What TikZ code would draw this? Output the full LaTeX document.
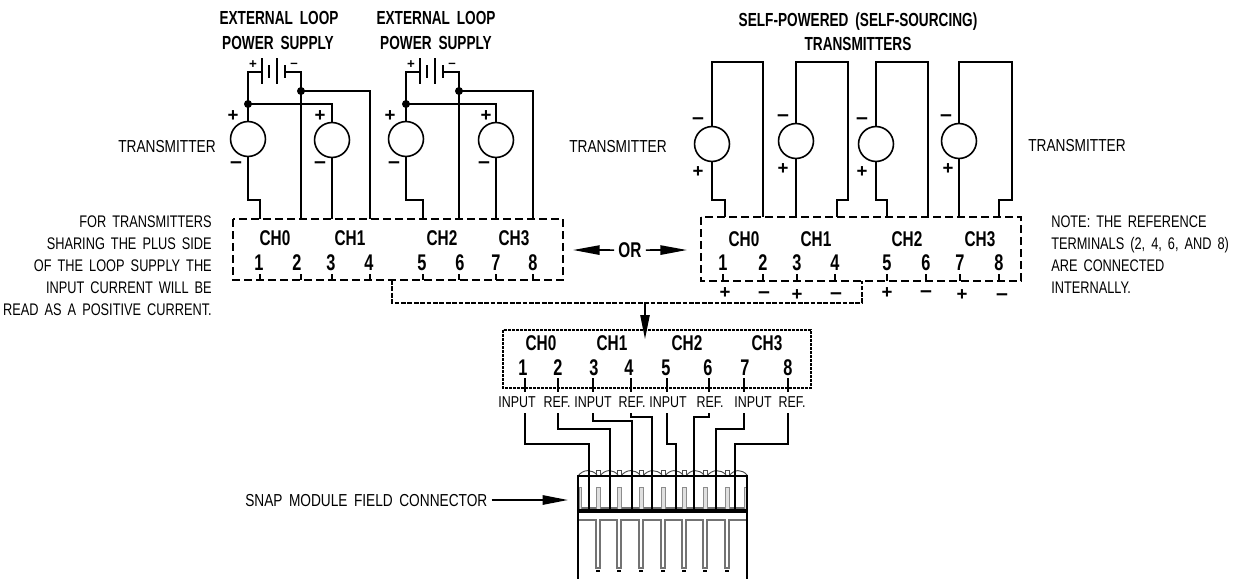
\documentclass[tikz,border=0pt]{standalone}
\usepackage{fontspec}
\usetikzlibrary{arrows.meta}
\newfontfamily\plainf[FakeStretch=0.79,WordSpace=1.7]{Liberation Sans}
\newfontfamily\notef[FakeStretch=0.76,WordSpace=1.7]{Liberation Sans}
\newfontfamily\boldf[FakeStretch=0.72,WordSpace=1.8]{Liberation Sans Bold}
\newfontfamily\signf{Liberation Sans Bold}
\tikzset{
  lbl/.style={anchor=base,inner sep=0pt,yshift=-4.6pt,font=\plainf\fontsize{13}{16}\selectfont},
  inlbl/.style={anchor=base,inner sep=0pt,yshift=-4.4pt,font=\plainf\fontsize{11.8}{14}\selectfont},
  ttl/.style={anchor=base,inner sep=0pt,yshift=-4.8pt,font=\boldf\fontsize{14.2}{16}\selectfont},
  chl/.style={anchor=base,inner sep=0pt,yshift=-5.6pt,font=\boldf\fontsize{16}{18}\selectfont},
  numl/.style={anchor=base,inner sep=0pt,yshift=-6.4pt,font=\boldf\fontsize{17}{20}\selectfont},
  plusl/.style={anchor=base,inner sep=0pt,yshift=-4.6pt,font=\signf\fontsize{14}{16}\selectfont},
  minusl/.style={anchor=base,inner sep=0pt,yshift=-4.6pt,font=\signf\fontsize{16}{16}\selectfont},
  batsign/.style={inner sep=0pt,anchor=base,yshift=-3.4pt,font=\signf\fontsize{10}{12}\selectfont},
  xmtr/.style={draw,circle,minimum size=26.2pt,inner sep=0pt,line width=1.2pt},
  wire/.style={line width=1.5pt,line join=miter},
  junction/.style={circle,fill=black,minimum size=6pt,inner sep=0pt},
  plate/.style={line width=1.4pt},
  termbox/.style={line width=1.3pt,dash pattern=on 6pt off 3pt},
  dotbox/.style={line width=1.2pt,dash pattern=on 2pt off 1pt},
  bus/.style={line width=.9pt,dash pattern=on 3.6pt off 1.2pt},
  tick/.style={line width=1.1pt},
  bigarrow/.style={line width=1.3pt,-{Triangle[length=20pt,width=7pt]}},
  pinline/.style={line width=.8pt,draw=black!55},
  pinfill/.style={line width=.7pt,draw=black!45,fill=black!12},
  sidenote/.style={inner sep=0pt,font=\notef\fontsize{12.6}{16.5}\selectfont}
}
\begin{document}
\begin{tikzpicture}[x=0.75pt,y=-0.75pt]
\useasboundingbox[fill=white] (0,0) rectangle (1237,579);

% ---------- titles and side text
\node[ttl] (t1a) at (279,18) {EXTERNAL LOOP};
\node[ttl] (t1b) at (278,43) {POWER SUPPLY};
\node[ttl] (t2a) at (436,18) {EXTERNAL LOOP};
\node[ttl] (t2b) at (436,43) {POWER SUPPLY};
\node[ttl] (t3a) at (858,20) {SELF-POWERED (SELF-SOURCING)};
\node[ttl] (t3b) at (858,44) {TRANSMITTERS};
\node[lbl] (xa) at (167,146) {TRANSMITTER};
\node[lbl] (xb) at (618,146) {TRANSMITTER};
\node[lbl] (xc) at (1077,145) {TRANSMITTER};
\node[sidenote,anchor=north east,align=right] (noteL) at (212,215)
  {FOR TRANSMITTERS\\SHARING THE PLUS SIDE\\OF THE LOOP SUPPLY THE\\INPUT CURRENT WILL BE\\READ AS A POSITIVE CURRENT.};
\node[sidenote,anchor=north west,align=left] (noteR) at (1051,215)
  {NOTE: THE REFERENCE\\TERMINALS (2, 4, 6, AND 8)\\ARE CONNECTED\\INTERNALLY.};

% ---------- left terminal block
\draw[termbox] (233,219) rectangle (563,280);
\node[chl] (aC0) at (275,238) {CH0};
\node[chl] (aC1) at (350,238) {CH1};
\node[chl] (aC2) at (442,238) {CH2};
\node[chl] (aC3) at (514,238) {CH3};
\foreach \n/\x in {1/260,2/301,3/332,4/370,5/423,6/459,7/496,8/533}{
  \coordinate (aT\n) at (\x,219);
  \coordinate (aB\n) at (\x,280);
  \coordinate (aK\n) at (\x,274);
  \draw[tick] (aK\n) -- (aB\n);
}
\foreach \n/\x in {1/259,2/297,3/331,4/369,5/422,6/460,7/496,8/533}
  \node[numl] (aN\n) at (\x,262) {\n};

% ---------- left transmitters
\node[xmtr] (c1) at (248,139) {};
\node[xmtr] (c2) at (332,140) {};
\node[xmtr] (c3) at (406,139) {};
\node[xmtr] (c4) at (496,140) {};
\node[plusl] (p1) at (233,115) {+};
\node[minusl] (m1) at (236,162) {–};
\node[plusl] (p2) at (320,115) {+};
\node[minusl] (m2) at (320,162) {–};
\node[plusl] (p3) at (390,115) {+};
\node[minusl] (m3) at (394,162) {–};
\node[plusl] (p4) at (486,115) {+};
\node[minusl] (m4) at (484,162) {–};

% ---------- batteries
\foreach \b/\o in {A/0,B/158}{
  \begin{scope}[shift={(\o,0)}]
    \coordinate (b\b L) at (262,72);
    \coordinate (b\b R) at (285,72);
    \draw[plate] (262,58) -- (262,84);
    \draw[plate] (269,65) -- (269,78);
    \draw[plate] (277,58) -- (277,84);
    \draw[plate] (285,65) -- (285,78);
    \node[batsign] (b\b p) at (253,64) {+};
    \node[batsign] (b\b m) at (294,63) {–};
    \node[junction] (j\b P) at (248,104) {};
    \node[junction] (j\b N) at (301,91) {};
  \end{scope}
}
% wiring, first supply
\draw[wire] (bAL) -| (jAP.center);
\draw[wire] (jAP.center) -- (c1.north);
\draw[wire] (jAP.center) -| (c2.north);
\draw[wire] (bAR) -| (jAN.center);
\draw[wire] (jAN.center) -- (aT2);
\draw[wire] (jAN.center) -| (aT4);
\draw[wire] (c1.south) -- (248,200) -| (aT1);
\draw[wire] (c2.south) -- (aT3);
% wiring, second supply
\draw[wire] (bBL) -| (jBP.center);
\draw[wire] (jBP.center) -- (c3.north);
\draw[wire] (jBP.center) -| (c4.north);
\draw[wire] (bBR) -| (jBN.center);
\draw[wire] (jBN.center) -- (aT6);
\draw[wire] (jBN.center) -| (aT8);
\draw[wire] (c3.south) -- (406,200) -| (aT5);
\draw[wire] (c4.south) -- (aT7);

% ---------- OR
\node[chl] (or) at (630,250) {OR};
\coordinate (orL) at (573,250);
\coordinate (orR) at (687,250);
\draw[bigarrow] (or.west) ++(-4,0) -- (orL);
\draw[bigarrow] (or.east) ++(4,0) -- (orR);

% ---------- right terminal block
\draw[termbox] (701,217) rectangle (1021,281);
\node[chl] (bC0) at (744,239) {CH0};
\node[chl] (bC1) at (816,239) {CH1};
\node[chl] (bC2) at (907,239) {CH2};
\node[chl] (bC3) at (980,239) {CH3};
\foreach \n/\x in {1/725,2/763,3/796,4/837,5/887,6/928,7/959,8/999}{
  \coordinate (bT\n) at (\x,217);
}
\foreach \n/\x in {1/723,2/763,3/797,4/835,5/887,6/926,7/960,8/999}{
  \node[numl] (bN\n) at (\x,262) {\n};
  \coordinate (bK\n) at (\x,274);
  \coordinate (bB\n) at (\x,281);
  \draw[tick] (bK\n) -- (bB\n);
}
\node[xmtr] (d1) at (712,144) {};
\node[xmtr] (d2) at (796,141) {};
\node[xmtr] (d3) at (876,144) {};
\node[xmtr] (d4) at (959,141) {};
\node[minusl] (dm1) at (698,118) {–};
\node[plusl] (dp1) at (698,171) {+};
\node[minusl] (dm2) at (783,115) {–};
\node[plusl] (dp2) at (783,168) {+};
\node[minusl] (dm3) at (862,118) {–};
\node[plusl] (dp3) at (862,171) {+};
\node[minusl] (dm4) at (946,115) {–};
\node[plusl] (dp4) at (948,168) {+};
\draw[wire] (d1.north) |- (763,62) -- (bT2);
\draw[wire] (d1.south) -- (712,200) -| (bT1);
\draw[wire] (d2.north) |- (848,62) -- (848,200) -| (bT4);
\draw[wire] (d2.south) -- (bT3);
\draw[wire] (d3.north) |- (928,62) -- (bT6);
\draw[wire] (d3.south) -- (876,200) -| (bT5);
\draw[wire] (d4.north) |- (1012,62) -- (1012,200) -| (bT8);
\draw[wire] (d4.south) -- (bT7);
\foreach \s/\g/\k/\x/\y in {plusl/+/1/725/292,minusl/–/2/764/292,plusl/+/3/797/294,minusl/–/4/836/293,plusl/+/5/887/292,minusl/–/6/926/291,plusl/+/7/962/294,minusl/–/8/1002/294}
  \node[\s] (bS\k) at (\x,\y) {\g};

% ---------- shared bus
\coordinate (busL) at (392,280);
\coordinate (busR) at (862,281);
\coordinate (busM) at (645,303);
\coordinate (busTip) at (645,339);
\draw[bus] (busL) |- (busM) -| (busR);
\draw[line width=1pt,-{Triangle[length=18pt,width=7pt]}] (busM) -- (busTip);

% ---------- lower terminal block
\draw[dotbox] (503,330) rectangle (811,388);
\node[chl] (cC0) at (541,343) {CH0};
\node[chl] (cC1) at (612,343) {CH1};
\node[chl] (cC2) at (687,343) {CH2};
\node[chl] (cC3) at (767,343) {CH3};
\foreach \n/\x in {1/523,2/558,3/594,4/629,5/666,6/708,7/745,8/788}
  \node[numl] (cN\n) at (\x,367) {\n};
\foreach \n/\x in {1/525,2/558,3/593,4/631,5/667,6/709,7/744,8/788}{
  \coordinate (cK\n) at (\x,378);
  \coordinate (cB\n) at (\x,392);
  \coordinate (cW\n) at (\x,413);
  \draw[tick] (cK\n) -- (cB\n);
}
\node[inlbl] (i1) at (517,402) {INPUT};
\node[inlbl] (r1) at (557,402) {REF.};
\node[inlbl] (i2) at (593,402) {INPUT};
\node[inlbl] (r2) at (632,402) {REF.};
\node[inlbl] (i3) at (668,402) {INPUT};
\node[inlbl] (r3) at (710,402) {REF.};
\node[inlbl] (i4) at (753,402) {INPUT};
\node[inlbl] (r4) at (792,402) {REF.};

% ---------- field connector
\foreach \a/\b in {578/597,600/618,621/640,643/662,665/683,686/704,707/726,729/747}
  \draw[line width=.7pt,draw=black!70] (\a,476) .. controls (\a+5,469) and (\b-5,469) .. (\b,475);
\foreach \x in {598,619,641,663,684,705,727}
  \draw[line width=.7pt,draw=black!70] (\x-2,470) rectangle (\x+2,476);
\draw[line width=.8pt] (578,476) -- (747,476);
\draw[line width=.8pt,draw=black!55] (578,508) -- (747,508);
\foreach \x in {598,619,641,663,684,705,727}
  \draw[pinfill] (\x-2,487) rectangle (\x+2,511);
\draw[pinfill] (579,487) rectangle (581,511);
\draw[pinfill] (744,487) rectangle (746,511);
\draw[pinline] (578,520) -- (596,520) -- (596,568) -- (600,568) -- (600,520)
  -- (617,520) -- (617,568) -- (621,568) -- (621,520)
  -- (639,520) -- (639,568) -- (643,568) -- (643,520)
  -- (661,520) -- (661,568) -- (665,568) -- (665,520)
  -- (682,520) -- (682,568) -- (686,568) -- (686,520)
  -- (703,520) -- (703,568) -- (707,568) -- (707,520)
  -- (725,520) -- (725,568) -- (729,568) -- (729,520) -- (747,520);
\foreach \x in {598,619,641,663,684,705,727}
  \draw[line width=1.2pt] (\x-2,571) -- (\x+2,571);
\draw[line width=2.2pt] (578,475) -- (578,579);
\draw[line width=1.2pt] (747,475) -- (747,579);
\draw[line width=3pt] (578,511) -- (747,511);
\foreach \n/\x in {1/589,2/610,3/632,4/652,5/676,6/694,7/716,8/735}
  \coordinate (sock\n) at (\x,511);

% ---------- wires to the connector
\draw[wire] (cW1) |- (589,444) -- (sock1);
\draw[wire] (cW2) |- (610,429) -- (sock2);
\draw[wire] (cW3) |- (632,421) -- (sock3);
\draw[wire] (cW4) |- (652,417) -- (sock4);
\draw[wire] (cW5) |- (676,444) -- (sock5);
\draw[wire] (cW6) |- (694,417) -- (sock6);
\draw[wire] (cW7) |- (716,429) -- (sock7);
\draw[wire] (cW8) |- (735,444) -- (sock8);

% ---------- connector callout
\node[lbl,anchor=base west] (snap) at (245,500) {SNAP MODULE FIELD CONNECTOR};
\coordinate (snapTip) at (568,500);
\draw[line width=1.3pt,-{Triangle[length=19pt,width=7pt]}] (snap.east |- snapTip) ++(4,0) -- (snapTip);
\end{tikzpicture}
\end{document}
